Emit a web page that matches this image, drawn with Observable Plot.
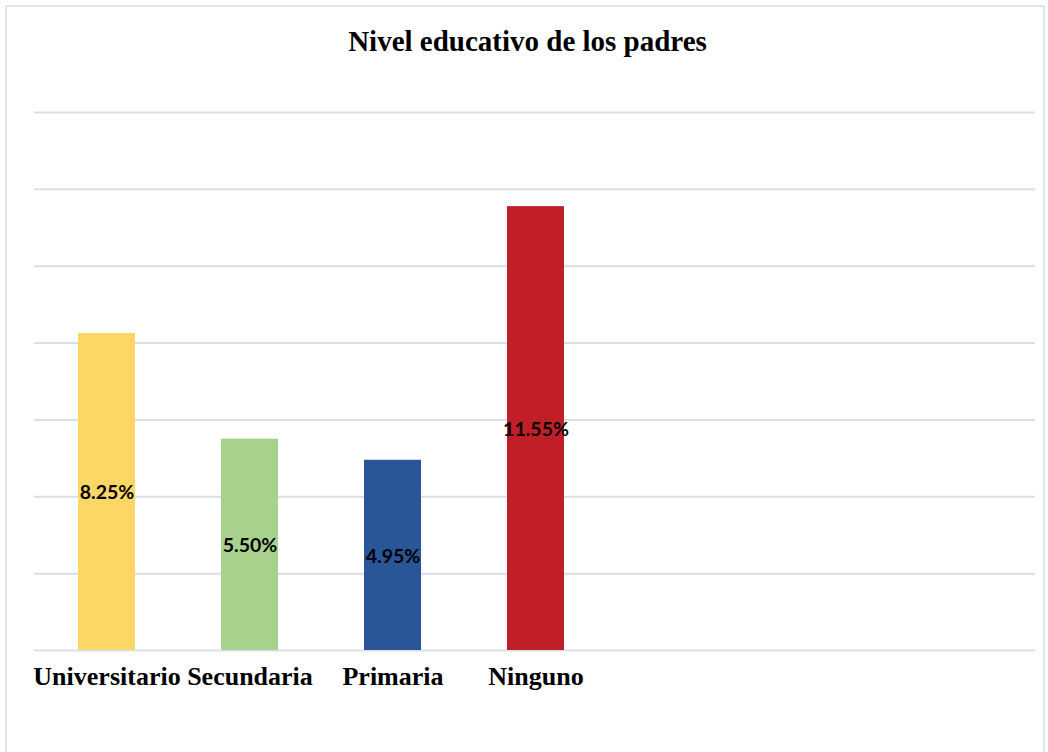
<!DOCTYPE html>
<html>
<head>
<meta charset="utf-8">
<script src="https://cdn.jsdelivr.net/npm/d3@7"></script>
<script src="https://cdn.jsdelivr.net/npm/@observablehq/plot@0.6"></script>
<style>
  html, body { margin: 0; padding: 0; background: #fff; }
  #wrap { position: relative; width: 1048px; height: 752px; overflow: hidden; }
  #frame { position: absolute; left: 5px; top: 5px; width: 1040px; height: 800px; border: 2px solid #dfe4ee; box-sizing: border-box; }
  #title { position: absolute; left: 0; width: 1055px; top: 24px; text-align: center; line-height: 34px;
           font-family: "Liberation Serif", "Times New Roman", serif; font-weight: bold; font-size: 29px; color: #000; }
  #chart { position: absolute; left: 0; top: 80px; }
</style>
</head>
<body>
<div id="wrap">
  <div id="frame"></div>
  <div id="title">Nivel educativo de los padres</div>
  <div id="chart"></div>
</div>
<script>
const categories = ["Universitario", "Secundaria", "Primaria", "Ninguno"];
const values = [8.25, 5.50, 4.95, 11.55];
const gridValues = [0, 2, 4, 6, 8, 10, 12, 14];
const barColors = ["#FDD766", "#A9D18E", "#2A5597", "#C11F27"];

const data = categories.map((c, i) => ({ category: c, value: values[i] }));
const fmt = d => d3.format(".2f")(d) + "%";

const chart = Plot.plot({
  width: 1048,
  height: 672,
  marginTop: 32,
  marginBottom: 102,
  marginLeft: 34,
  marginRight: 13,
  style: { background: "transparent" },
  x: { domain: categories, range: [35, 607], paddingInner: 0.6, paddingOuter: 0.3, label: null },
  y: { domain: [0, 14], label: null, axis: null },
  color: { domain: categories, range: barColors },
  marks: [
    Plot.ruleY(gridValues, { stroke: "#d9dfea", strokeWidth: 2 }),
    Plot.barY(data, { x: "category", y: "value", fill: "category" }),
    Plot.text(data, { x: "category", y: d => d.value / 2, text: d => fmt(d.value), dy: 1,
      fill: "#000", fontSize: 19.5, fontWeight: "bold", fontFamily: "Lato, 'Liberation Sans', sans-serif" }),
    Plot.axisX({ tickSize: 0, tickPadding: 16, fontSize: 26, fontWeight: "bold",
      fontFamily: "'Liberation Serif', 'Times New Roman', serif", fill: "#000", label: null })
  ]
});
document.getElementById("chart").appendChild(chart);
</script>
</body>
</html>
